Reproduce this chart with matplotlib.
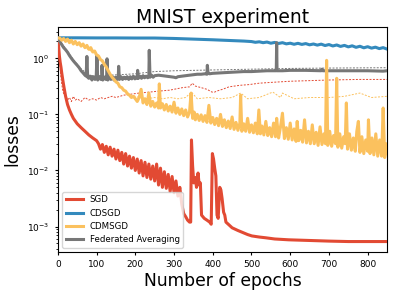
import matplotlib.pyplot as plt

# SGD (solid red)
sgd_epochs = [0, 2, 4, 6, 8, 10, 13, 16, 20, 25, 30, 35, 40, 50, 60, 70, 80, 90, 100,
              105, 110, 115, 120, 125, 130, 135, 140, 145, 150, 155, 160, 165, 170, 175,
              180, 185, 190, 195, 200, 205, 210, 215, 220, 225, 230, 235, 240, 245, 250,
              255, 260, 265, 270, 275, 280, 285, 290, 295, 300, 305, 310, 315, 320, 325,
              330, 335, 340, 343, 345, 348, 351, 355, 358, 362, 365, 368, 371, 378, 385,
              392, 396, 399, 402, 405, 408, 411, 414, 418, 421, 424, 428, 431, 434, 440,
              450, 465, 476, 490, 501, 520, 537, 560, 596, 630, 665, 700, 750, 800, 850]
sgd_loss = [2.3, 1.6, 1.1, 0.85, 0.7, 0.55, 0.4, 0.3, 0.21, 0.15, 0.12, 0.1, 0.085, 0.068,
            0.058, 0.05, 0.043, 0.038, 0.034,
            0.030, 0.024, 0.029, 0.021, 0.027, 0.019, 0.026, 0.018, 0.024, 0.016, 0.023,
            0.015, 0.021, 0.013, 0.020, 0.012, 0.018, 0.011, 0.017, 0.010, 0.016, 0.009,
            0.015, 0.008, 0.014, 0.0075, 0.013, 0.007, 0.012, 0.0065, 0.013, 0.0055, 0.011,
            0.005, 0.0095, 0.0048, 0.0085, 0.0042, 0.0078, 0.004, 0.0065, 0.0035, 0.005,
            0.0025, 0.0017, 0.0015, 0.0013, 0.0012, 0.0012, 0.035, 0.012, 0.006, 0.0075,
            0.005, 0.009, 0.0055, 0.006, 0.0016, 0.0014, 0.0013, 0.0012, 0.0011, 0.02,
            0.016, 0.011, 0.008, 0.0016, 0.0014, 0.005, 0.0045, 0.0032, 0.0018, 0.0016,
            0.0012, 0.0011, 0.00095, 0.00085, 0.00079, 0.00072, 0.00068, 0.00065, 0.00063,
            0.0006, 0.00058, 0.00057, 0.00056, 0.00055, 0.00054, 0.00054, 0.00054]

# CDSGD (solid blue)
cdsgd_epochs = [0, 50, 100, 150, 200, 250, 300, 350, 400, 450, 480,
                500, 510, 520, 530, 540, 550, 560, 570, 580, 590, 600, 610, 620, 630,
                640, 650, 660, 670, 680, 690, 700, 710, 720, 730, 740, 750, 760, 770,
                780, 790, 800, 810, 820, 830, 840, 850]
cdsgd_loss = [2.32, 2.32, 2.31, 2.31, 2.3, 2.3, 2.26, 2.2, 2.14, 2.07, 2.03,
              1.99, 1.93, 1.97, 1.9, 1.95, 1.86, 1.92, 1.84, 1.9, 1.81, 1.86, 1.78, 1.85,
              1.77, 1.83, 1.74, 1.8, 1.72, 1.79, 1.69, 1.76, 1.66, 1.73, 1.63, 1.7, 1.6,
              1.67, 1.57, 1.64, 1.54, 1.61, 1.52, 1.58, 1.49, 1.55, 1.46]

# CDMSGD (solid yellow)
cdmsgd_epochs = [0, 5, 10, 15, 20, 25, 30, 35, 40, 45, 50, 55, 60, 65, 70, 75, 80, 85, 90,
                 95, 100, 105, 110, 115, 120, 125, 130, 135, 140, 145, 150, 155, 160, 165,
                 170, 175, 180, 185, 190, 195,
                 200, 205, 210, 215, 220, 225, 230, 235, 240, 245, 250, 255, 260, 262, 265,
                 270, 275, 280, 285, 290, 295, 300, 305, 310, 315, 320, 325, 330, 335, 340,
                 344, 348, 352, 355, 360, 365, 370, 375, 380, 385, 390, 395, 400, 405, 410,
                 415, 420, 425, 430, 435, 440, 445, 450, 455, 460, 465, 470, 472, 475, 480,
                 485, 490, 495, 500, 505, 510, 515, 519, 523, 527, 532, 537, 542, 547, 552,
                 557, 562, 565, 570, 575, 580, 585, 590, 595, 600, 605, 610, 615, 618, 622,
                 627, 632, 637, 642, 647, 652, 657, 662, 667, 672, 677, 682, 687, 691, 694,
                 697, 702, 707, 712, 717, 720, 723, 728, 733, 738, 742, 745, 748, 753, 758,
                 763, 768, 772, 776, 780, 785, 790, 795, 800, 802, 806, 811, 816, 821, 826,
                 831, 836, 840, 844, 848, 850]
cdmsgd_loss = [2.3, 2.3, 2.1, 2.25, 2.0, 2.2, 1.9, 2.1, 1.8, 2.0, 1.75, 1.9, 1.65, 1.8,
               1.55, 1.7, 1.45, 1.55, 1.3, 1.35, 1.15, 1.1, 0.95, 0.9, 0.78, 0.7, 0.6,
               0.52, 0.46, 0.42, 0.38, 0.36, 0.31, 0.3, 0.27, 0.26, 0.23, 0.22, 0.2, 0.21,
               0.19, 0.17, 0.2, 0.28, 0.16, 0.19, 0.15, 0.24, 0.14, 0.17, 0.135, 0.16, 0.13,
               0.35, 0.13, 0.155, 0.12, 0.15, 0.115, 0.14, 0.11, 0.165, 0.105, 0.13, 0.1,
               0.125, 0.095, 0.12, 0.09, 0.11, 0.24, 0.085, 0.11, 0.08, 0.1, 0.078, 0.098,
               0.075, 0.095, 0.072, 0.145, 0.07, 0.088, 0.066, 0.085, 0.063, 0.1, 0.061,
               0.08, 0.058, 0.076, 0.056, 0.09, 0.054, 0.072, 0.052, 0.07, 0.22, 0.05, 0.068,
               0.05, 0.085, 0.048, 0.065, 0.047, 0.07, 0.045, 0.12, 0.045, 0.062, 0.043,
               0.075, 0.042, 0.058, 0.04, 0.07, 0.04, 0.085, 0.038, 0.06, 0.105, 0.037,
               0.058, 0.036, 0.07, 0.035, 0.055, 0.033, 0.075, 0.034, 0.052, 0.032, 0.08,
               0.031, 0.05, 0.03, 0.065, 0.03, 0.048, 0.028, 0.06, 0.029, 0.045, 0.03, 0.92,
               0.028, 0.05, 0.027, 0.042, 0.03, 0.44, 0.026, 0.045, 0.025, 0.04, 0.03, 0.16,
               0.024, 0.045, 0.023, 0.038, 0.022, 0.05, 0.075, 0.021, 0.04, 0.02, 0.035,
               0.022, 0.08, 0.02, 0.038, 0.019, 0.045, 0.018, 0.035, 0.018, 0.13, 0.017,
               0.03, 0.02]

# Federated Averaging (solid gray)
fedavg_epochs = [0, 5, 10, 15, 20, 25, 30, 35, 40, 45, 50, 55, 60, 65, 70, 73, 75, 77, 80,
                 84, 88, 92, 96, 99, 101, 103, 107, 111, 113, 114, 116, 120, 124, 126, 127,
                 129, 133, 137, 141, 145, 149, 153, 156, 157, 159, 163, 167, 171, 175, 179,
                 183, 187, 191, 195, 199, 203, 205, 206, 208, 212, 216, 220, 224, 228, 232,
                 235, 236, 238, 242, 246, 250, 260, 270, 280, 290, 300, 305, 310, 320, 330,
                 340, 350, 360, 370, 380, 385, 386, 388, 392, 400, 420, 440, 460, 480, 500,
                 520, 540, 560, 564, 565, 566, 580, 600, 640, 680, 682, 684, 720, 760, 800,
                 840, 850]
fedavg_loss = [2.3, 2.0, 1.75, 1.55, 1.42, 1.28, 1.12, 1.0, 0.9, 0.82, 0.75, 0.68, 0.6,
               0.55, 0.5, 0.48, 1.08, 0.46, 0.44, 0.48, 0.41, 0.47, 0.42, 0.46, 1.13, 0.41,
               0.47, 0.42, 0.45, 0.75, 0.41, 0.46, 0.42, 0.47, 0.98, 0.41, 0.46, 0.42, 0.47,
               0.41, 0.46, 0.42, 0.46, 0.72, 0.42, 0.47, 0.42, 0.46, 0.43, 0.47, 0.42, 0.47,
               0.43, 0.48, 0.43, 0.47, 0.44, 0.61, 0.44, 0.48, 0.44, 0.49, 0.45, 0.48, 0.45,
               0.49, 1.39, 0.46, 0.5, 0.46, 0.49, 0.5, 0.49, 0.48, 0.47, 0.46, 0.45, 0.47,
               0.48, 0.49, 0.5, 0.51, 0.52, 0.52, 0.53, 0.52, 0.75, 0.54, 0.53, 0.54, 0.55,
               0.56, 0.57, 0.58, 0.58, 0.59, 0.6, 0.6, 0.6, 1.9, 0.6, 0.6, 0.61, 0.61, 0.6,
               0.64, 0.6, 0.6, 0.6, 0.6, 0.59, 0.6]

# thin dashed companions
sgd_dash_epochs = [0, 4, 8, 12, 16, 20, 25, 30, 35, 40, 45, 50, 60, 70, 80, 90, 100, 110,
                   120, 130, 140, 150, 170, 190, 210, 237, 260, 288, 322, 340, 347, 355,
                   370, 385, 398, 405, 410, 425, 442, 470, 494, 520, 545, 600, 650, 700,
                   775, 850]
sgd_dash_loss = [2.3, 1.0, 0.45, 0.28, 0.22, 0.22, 0.18, 0.2, 0.17, 0.21, 0.18, 0.19, 0.17,
                 0.2, 0.18, 0.19, 0.18, 0.2, 0.19, 0.2, 0.21, 0.2, 0.22, 0.23, 0.24, 0.25,
                 0.26, 0.27, 0.3, 0.31, 0.36, 0.32, 0.3, 0.28, 0.25, 0.25, 0.26, 0.28, 0.31,
                 0.33, 0.34, 0.36, 0.37, 0.39, 0.4, 0.41, 0.42, 0.42]

cdmsgd_dash_epochs = [0, 30, 60, 90, 110, 130, 150, 170, 190, 210, 230, 250, 270, 290, 310,
                      330, 345, 360, 390, 420, 450, 472, 490, 520, 555, 575, 580, 610, 650,
                      700, 740, 780, 810, 850]
cdmsgd_dash_loss = [2.3, 2.0, 1.7, 1.3, 0.95, 0.6, 0.38, 0.27, 0.22, 0.2, 0.19, 0.2, 0.19,
                    0.2, 0.19, 0.2, 0.25, 0.19, 0.2, 0.19, 0.2, 0.24, 0.19, 0.2, 0.25, 0.2,
                    0.24, 0.19, 0.2, 0.2, 0.21, 0.24, 0.2, 0.21]

fedavg_dash_epochs = [0, 20, 40, 60, 80, 100, 130, 160, 200, 250, 300, 400, 500, 600, 700, 850]
fedavg_dash_loss = [2.3, 1.5, 0.95, 0.65, 0.5, 0.48, 0.5, 0.51, 0.53, 0.58, 0.6, 0.62, 0.64,
                    0.66, 0.67, 0.68]

red, blue, yellow, gray = "#E24A33", "#348ABD", "#FBC15E", "#777777"

fig = plt.figure(figsize=(3.99, 2.98), dpi=100)
ax = fig.add_axes([0.145, 0.154, 0.825, 0.755])

ax.plot(sgd_epochs, sgd_loss, color=red, lw=2.2, label="SGD", zorder=3)
ax.plot(cdsgd_epochs, cdsgd_loss, color=blue, lw=2.2, label="CDSGD", zorder=3)
ax.plot(cdmsgd_epochs, cdmsgd_loss, color=yellow, lw=2.2, label="CDMSGD", zorder=3.2)
ax.plot(fedavg_epochs, fedavg_loss, color=gray, lw=2.2, label="Federated Averaging", zorder=3.1)

ax.plot(sgd_dash_epochs, sgd_dash_loss, color=red, lw=0.7, ls=(0, (2, 1.5)), zorder=2)
ax.plot(cdmsgd_dash_epochs, cdmsgd_dash_loss, color=yellow, lw=0.7, ls=(0, (2, 1.5)), zorder=2)
ax.plot(fedavg_dash_epochs, fedavg_dash_loss, color=gray, lw=0.7, ls=(0, (2, 1.5)), zorder=2)

ax.set_yscale("log")
ax.set_xlim(0, 850)
ax.set_ylim(3.5e-4, 3.6)
ax.set_xticks([0, 100, 200, 300, 400, 500, 600, 700, 800])
ax.tick_params(labelsize=6.5, length=2.5)
ax.tick_params(which="minor", length=1.5)

ax.set_title("MNIST experiment", fontsize=13.5, pad=3)
ax.set_xlabel("Number of epochs", fontsize=12.3, labelpad=2)
ax.set_ylabel("losses", fontsize=12.3)
ax.legend(loc="lower left", fontsize=6.2)

fig.savefig("out.png", dpi=100)
